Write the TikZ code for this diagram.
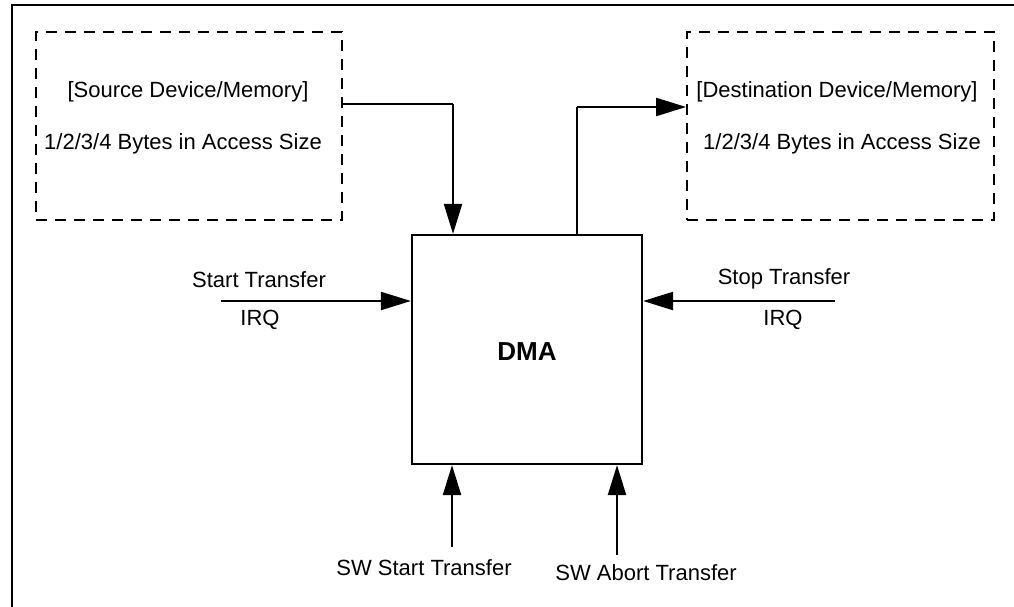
\documentclass[tikz,border=0pt]{standalone}
\usepackage{fontspec}
\setmainfont{Liberation Sans}
\usetikzlibrary{arrows.meta}
\begin{document}
\begin{tikzpicture}[x=1pt,y=-1pt,
  lbl/.style={font=\fontsize{22}{26}\selectfont, inner sep=0pt},
  membox/.style={draw, line width=1.8pt, dash pattern=on 11pt off 8pt},
  blockbox/.style={draw, line width=2.2pt, inner sep=0pt},
  flow/.style={line width=2.2pt, -{Triangle[length=30pt,width=18pt]}},
  wire/.style={line width=2.2pt}]
\useasboundingbox (0,0) rectangle (1014,607);
% outer frame
\draw[line width=2.5pt] (12,607) -- (12,5) -- (1014,5);

% memory regions
\node[membox, minimum width=306pt, minimum height=188pt] (src) at (189,126) {};
\node[membox, minimum width=307pt, minimum height=188pt] (dst) at (840.5,126) {};
\node[lbl] at (188,92) {[Source Device/Memory]};
\node[lbl] at (183,144) {1/2/3/4 Bytes in Access Size};
\node[lbl] at (837,92) {[Destination Device/Memory]};
\node[lbl] at (842,144) {1/2/3/4 Bytes in Access Size};

% DMA block
\node[blockbox, minimum width=230pt, minimum height=229pt] (dma) at (527,349.5) {};
\node[lbl, font=\fontsize{26}{30}\selectfont\bfseries] at (527,352) {DMA};

% data path
\coordinate (srcout) at (src.east |- 0,104);
\coordinate (dmain) at (453,0 |- dma.north);
\draw[wire] (srcout) -- (dmain |- srcout);
\draw[flow] (dmain |- srcout) -- (dmain);
\coordinate (dmaout) at (577,0 |- dma.north);
\coordinate (dstin) at (dst.west |- 0,107);
\draw[wire] (dmaout) -- (dmaout |- dstin);
\draw[flow] (dmaout |- dstin) -- (dstin);

% control inputs
\coordinate (startsrc) at (221,301);
\draw[flow] (startsrc) -- (startsrc -| dma.west);
\node[lbl] at (259,280) {Start Transfer};
\node[lbl] at (260,320) {IRQ};

\coordinate (stopsrc) at (835,301);
\draw[flow] (stopsrc) -- (stopsrc -| dma.east);
\node[lbl] at (784,279) {Stop Transfer};
\node[lbl] at (783,320) {IRQ};

\coordinate (swstart) at (452,547);
\draw[flow] (swstart) -- (swstart |- dma.south);
\node[lbl] at (424,568) {SW Start Transfer};

\coordinate (swabort) at (617,555);
\draw[flow] (swabort) -- (swabort |- dma.south);
\node[lbl] at (646,573) {SW Abort Transfer};
\end{tikzpicture}
\end{document}
